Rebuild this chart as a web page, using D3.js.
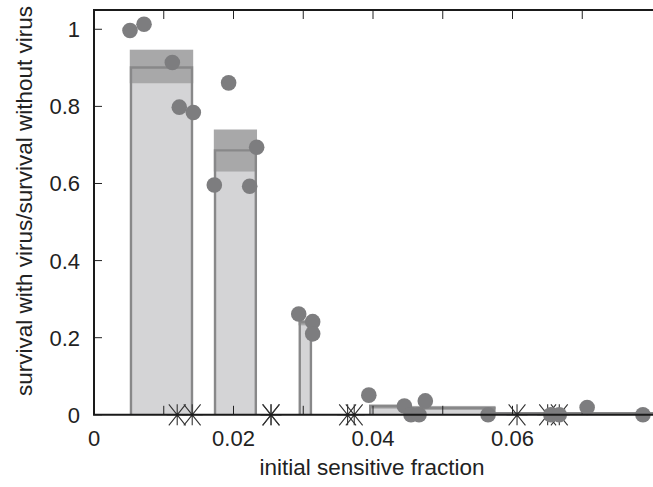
<!DOCTYPE html>
<html><head><meta charset="utf-8">
<script src="https://cdn.jsdelivr.net/npm/d3@7"></script>
<style>body{margin:0;background:#fff}svg{display:block}text{font-family:"Liberation Sans",Arial,sans-serif;fill:#222}</style>
</head><body><svg id="c" width="653" height="487"></svg>
<script>
// bar groups: x extent, mean and error band
const barX0 = [0.0053, 0.01735, 0.0295, 0.0396, 0.0454, 0.0574];
const barX1 = [0.01405, 0.0232, 0.0311, 0.0452, 0.0574, 0.0803];
const barMean = [0.901, 0.686, 0.240, 0.022, 0.017, 0.004];
const barLo = [0.860, 0.631, 0.232, 0.016, 0.014, 0.002];
const barHi = [0.947, 0.740, 0.246, 0.027, 0.023, 0.006];
// individual measurements
const ptX = [0.00516, 0.00717, 0.01123, 0.01223, 0.01424, 0.01725, 0.0193, 0.02232, 0.02332,
  0.02935, 0.03135, 0.03135, 0.0394, 0.0445, 0.04545, 0.0466, 0.0475, 0.0565, 0.0655, 0.0667, 0.0707, 0.0787];
const ptY = [0.997, 1.013, 0.914, 0.798, 0.784, 0.596, 0.861, 0.593, 0.694,
  0.2615, 0.2416, 0.210, 0.051, 0.023, 0, 0, 0.036, 0, 0, 0, 0.019, 0];
// star markers (at zero)
const starX = [0.01193, 0.01408, 0.02538, 0.02538, 0.03636, 0.03731, 0.06065, 0.06504, 0.06671];
const xTickVals = [0, 0.02, 0.04, 0.06];
const xTickLabels = ["0", "0.02", "0.04", "0.06"];
const xMinorVals = [0.01, 0.02, 0.03, 0.04, 0.05, 0.06, 0.07];
const yTickVals = [0, 0.2, 0.4, 0.6, 0.8, 1];
const yTickLabels = ["0", "0.2", "0.4", "0.6", "0.8", "1"];

const svg = d3.select("#c");
const x = d3.scaleLinear().domain([0, 0.08]).range([94, 652]);
const y = d3.scaleLinear().domain([0, 1.05]).range([414.8, 10]);
const bars = barX0.map((d, i) => ({x0: d, x1: barX1[i], m: barMean[i], lo: barLo[i], hi: barHi[i]}));

// bar fills
svg.append("g").selectAll("rect").data(bars).join("rect")
  .attr("x", d => x(d.x0)).attr("width", d => x(d.x1) - x(d.x0))
  .attr("y", d => y(d.m)).attr("height", d => y(0) - y(d.m))
  .attr("fill", "#d4d4d6");
// error bands
svg.append("g").selectAll("rect").data(bars).join("rect")
  .attr("x", d => x(d.x0) - 1.2).attr("width", d => x(d.x1) - x(d.x0) + 2.4)
  .attr("y", d => y(d.hi)).attr("height", d => Math.max(1.5, y(d.lo) - y(d.hi)))
  .attr("fill", "#a8a8a9");
// outlines
svg.append("g").selectAll("path").data(bars).join("path")
  .attr("d", d => `M${x(d.x0)},${y(0)}V${y(d.m)}H${x(d.x1)}V${y(0)}`)
  .attr("fill", "none").attr("stroke", "#888889").attr("stroke-width", 2.4);

// ticks (inward)
const tk = svg.append("g").attr("stroke", "#222").attr("stroke-width", 1);
xMinorVals.forEach(v => {
  tk.append("line").attr("x1", x(v)).attr("x2", x(v)).attr("y1", y(0)).attr("y2", y(0) - 9);
  tk.append("line").attr("x1", x(v)).attr("x2", x(v)).attr("y1", 10).attr("y2", 19);
});
yTickVals.forEach(v => {
  tk.append("line").attr("x1", 94).attr("x2", 102).attr("y1", y(v)).attr("y2", y(v));
});

// stars
const sh = 10.5;
svg.append("g").selectAll("path").data(starX).join("path")
  .attr("d", d => {
    const cx = x(d), cy = y(0);
    return `M${cx},${cy - sh}V${cy + sh}M${cx - sh},${cy}H${cx + sh}M${cx - sh * 0.8},${cy - sh}L${cx + sh * 0.8},${cy + sh}M${cx - sh * 0.8},${cy + sh}L${cx + sh * 0.8},${cy - sh}`;
  })
  .attr("stroke", "#333").attr("stroke-width", 1.1).attr("fill", "none");

// points
svg.append("g").selectAll("circle").data(ptX).join("circle")
  .attr("cx", d => x(d)).attr("cy", (d, i) => y(ptY[i])).attr("r", 7.8)
  .attr("fill", "#7d7d7f");

// frame
const fr = svg.append("g").attr("stroke", "#1a1a1a").attr("stroke-width", 2).attr("fill", "none");
fr.append("path").attr("d", `M653,10H94V${y(0)}H653`);

// tick labels
svg.append("g").selectAll("text").data(xTickVals).join("text")
  .attr("x", d => x(d)).attr("y", 446).attr("text-anchor", "middle")
  .attr("font-size", 22).text((d, i) => xTickLabels[i]);
svg.append("g").selectAll("text").data(yTickVals).join("text")
  .attr("x", 80).attr("y", d => y(d)).attr("dy", "0.36em").attr("text-anchor", "end")
  .attr("font-size", 22).text((d, i) => yTickLabels[i]);

// axis titles
svg.append("text").attr("x", 372).attr("y", 475).attr("text-anchor", "middle")
  .attr("font-size", 22.5).text("initial sensitive fraction");
svg.append("text").attr("transform", "translate(32,201) rotate(-90)").attr("text-anchor", "middle")
  .attr("font-size", 22.5).text("survival with virus/survival without virus");
</script></body></html>
